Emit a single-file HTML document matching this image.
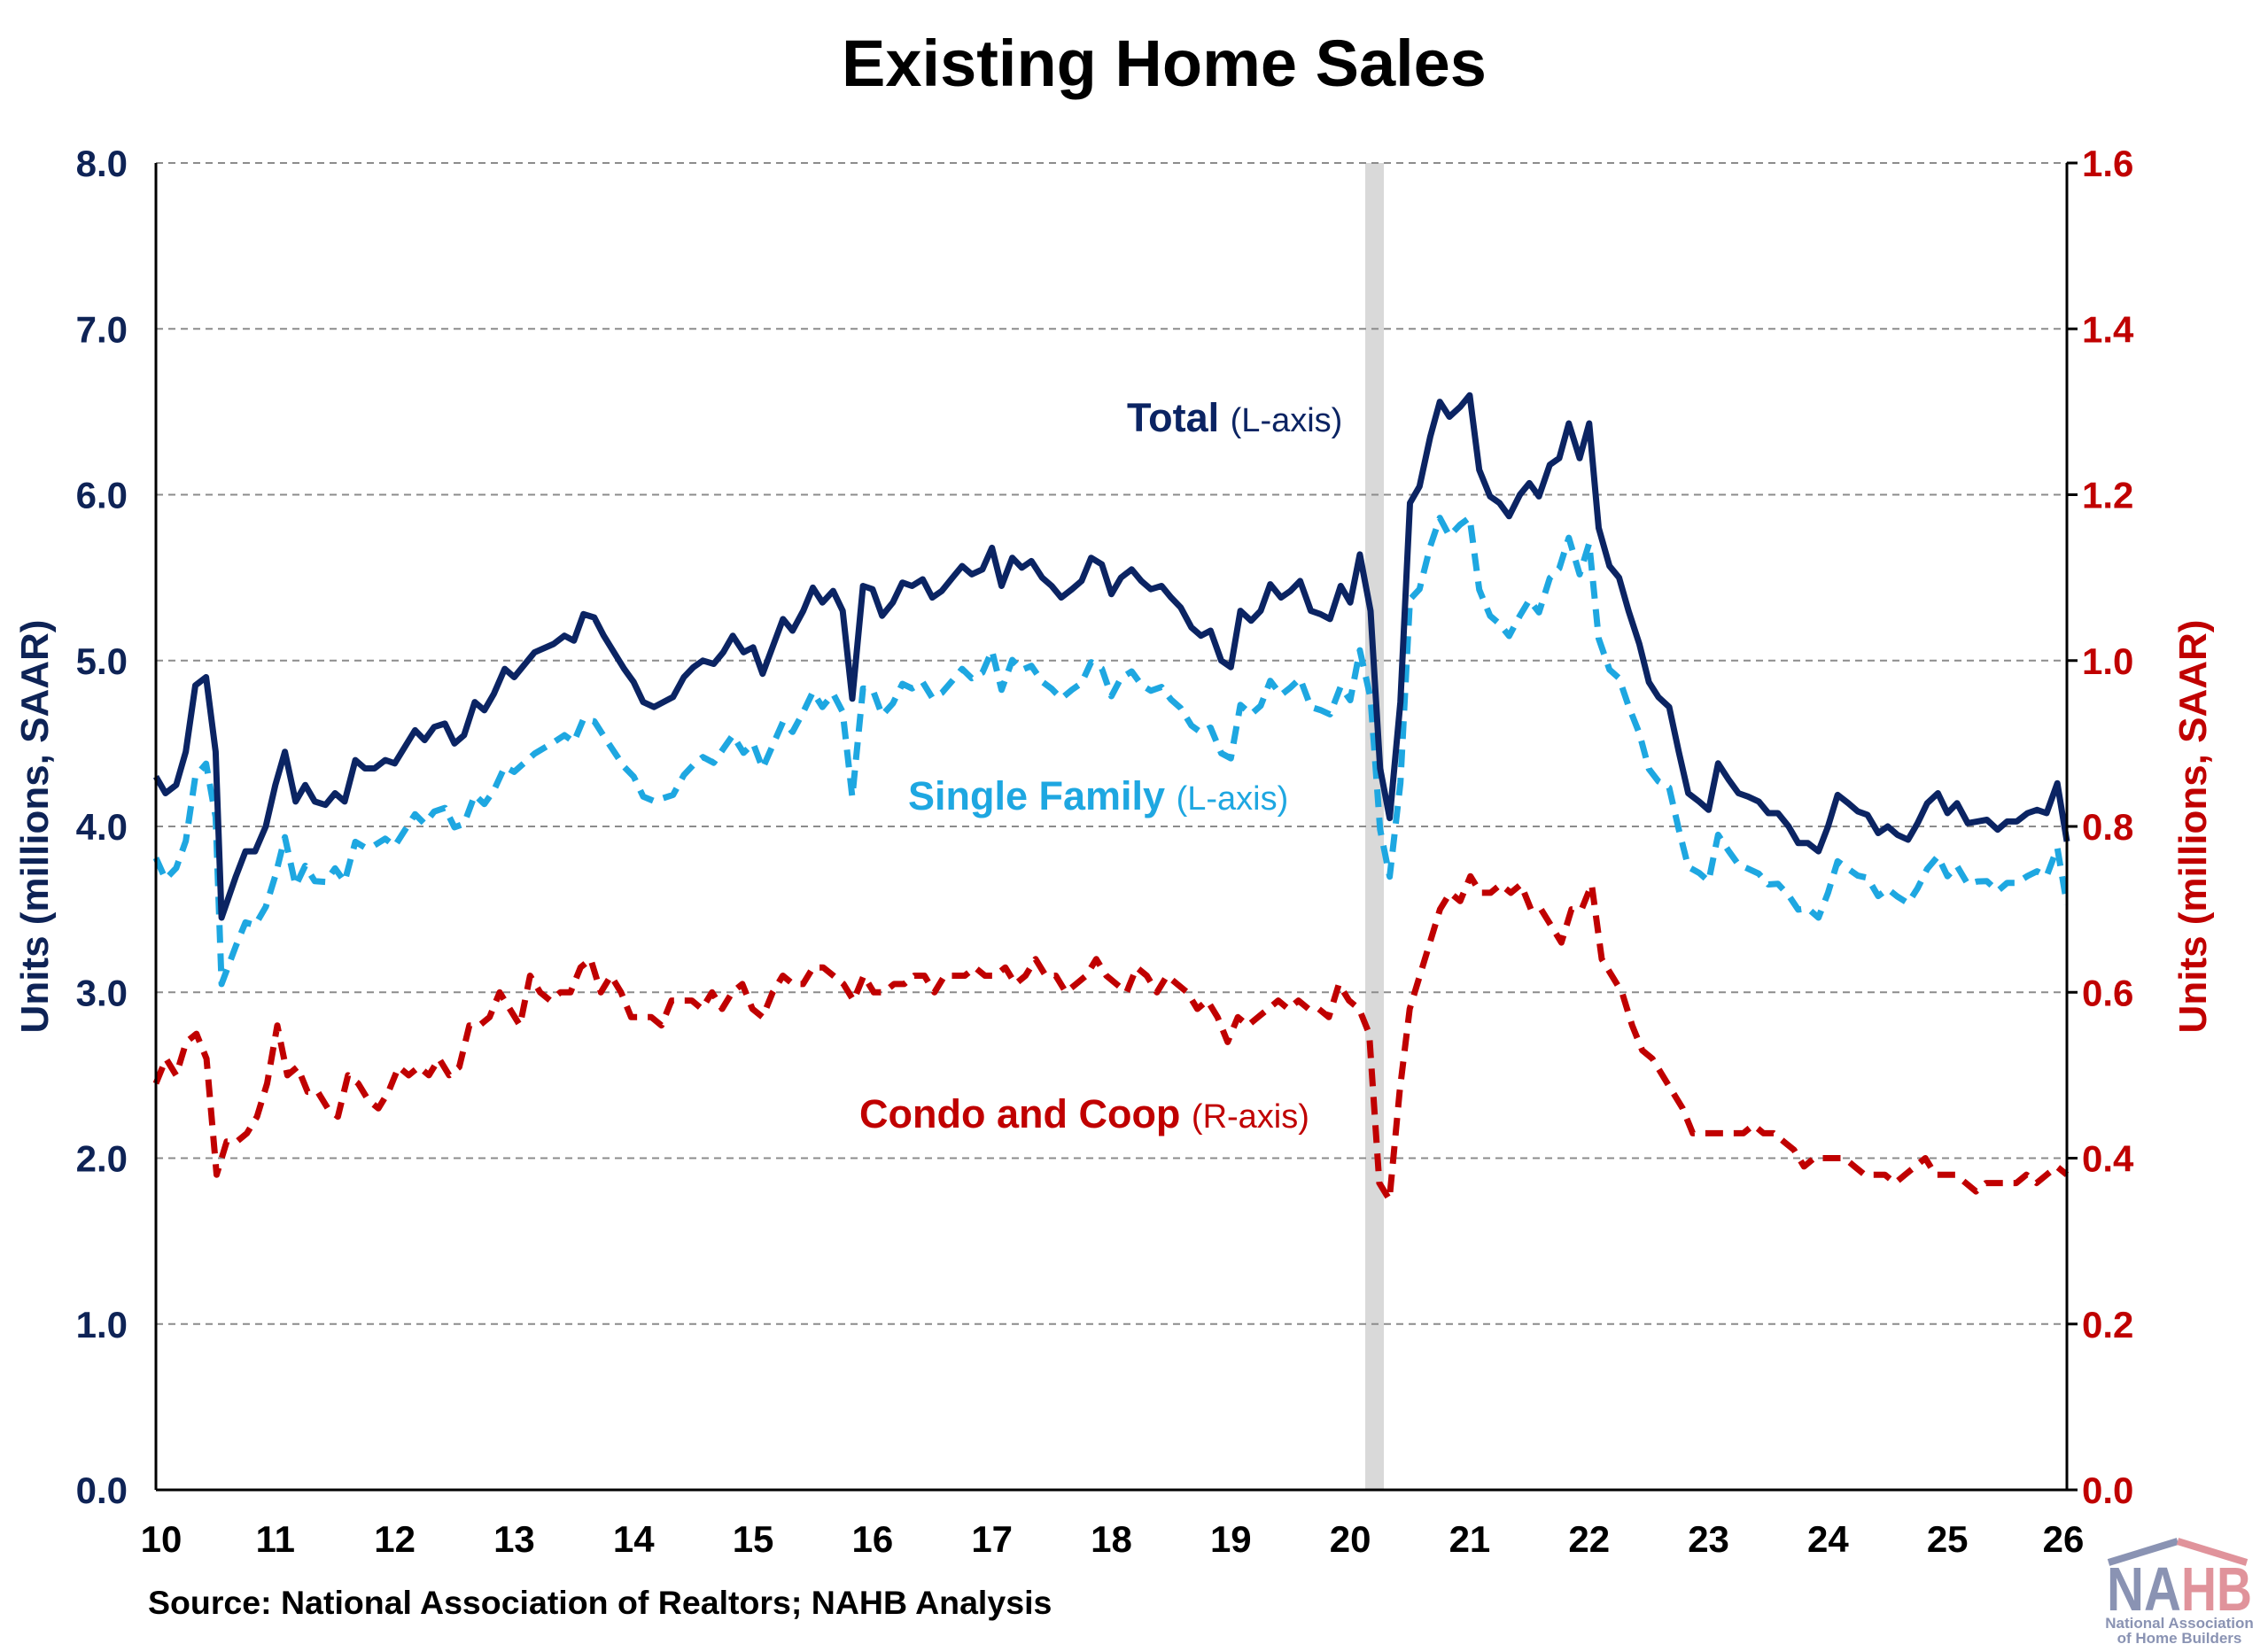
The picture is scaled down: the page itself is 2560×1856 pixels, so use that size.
<!DOCTYPE html>
<html><head><meta charset="utf-8"><style>
html,body{margin:0;padding:0;background:#fff;}
svg{display:block;font-family:"Liberation Sans",Arial,sans-serif;}
</style></head><body>
<svg id="s" width="2560" height="1856" viewBox="0 0 2560 1856" xmlns="http://www.w3.org/2000/svg">
<rect width="2560" height="1856" fill="#fff"/>
<text x="1314" y="97" font-size="74" font-weight="bold" text-anchor="middle" fill="#000">Existing Home Sales</text>
<rect x="1541" y="184" width="21" height="1498" fill="#d9d9d9"/>
<g id="grid" stroke="#8c8c8c" stroke-width="2" stroke-dasharray="8 6"></g>
<g id="labs"></g>
<path id="condo" fill="none" stroke="#C00000" stroke-width="7" stroke-dasharray="20 12" stroke-linejoin="round"/>
<path id="sf" fill="none" stroke="#1EA7E1" stroke-width="7" stroke-dasharray="20 12" stroke-linejoin="round"/>
<path id="tot" fill="none" stroke="#0B2463" stroke-width="7" stroke-linejoin="round"/>
<line x1="176" y1="184" x2="176" y2="1682" stroke="#000" stroke-width="3"/>
<line x1="2333" y1="184" x2="2333" y2="1682" stroke="#000" stroke-width="3"/>
<line x1="176" y1="1682" x2="2345" y2="1682" stroke="#000" stroke-width="3"/>
<text transform="translate(54,933) rotate(-90)" font-size="44" font-weight="bold" fill="#0E2356" text-anchor="middle">Units (millions, SAAR)</text>
<text transform="translate(2490,933) rotate(-90)" font-size="44" font-weight="bold" fill="#C00000" text-anchor="middle">Units (millions, SAAR)</text>
<text x="1272" y="487" font-size="45" font-weight="bold" fill="#0B2463">Total <tspan font-size="38" font-weight="normal">(L-axis)</tspan></text>
<text x="1025" y="914" font-size="45" font-weight="bold" fill="#1EA7E1">Single Family <tspan font-size="38" font-weight="normal">(L-axis)</tspan></text>
<text x="970" y="1273" font-size="45" font-weight="bold" fill="#C00000">Condo and Coop <tspan font-size="38" font-weight="normal">(R-axis)</tspan></text>
<text x="167" y="1822" font-size="37.5" font-weight="bold" fill="#000">Source: National Association of Realtors; NAHB Analysis</text>
<g>
<polyline points="2380,1764 2458,1740" fill="none" stroke="#8a93b3" stroke-width="8"/>
<polyline points="2458,1740 2536,1764" fill="none" stroke="#e0939b" stroke-width="8"/>
<text x="2378" y="1818" font-size="70" font-weight="bold" fill="#8a93b3" textLength="84" lengthAdjust="spacingAndGlyphs">NA</text>
<text x="2462" y="1818" font-size="70" font-weight="bold" fill="#e0939b" textLength="80" lengthAdjust="spacingAndGlyphs">HB</text>
<text x="2460" y="1838" font-size="17" font-weight="bold" fill="#8a93b3" text-anchor="middle">National Association</text>
<text x="2460" y="1855" font-size="17" font-weight="bold" fill="#8a93b3" text-anchor="middle">of Home Builders</text>
</g>
</svg>
<script>
var X0=176,X1=2333,Y0=1682,U=187.25;
function X(t){return X0+(t-2010)/16*(X1-X0);}
function Y(v){return Y0-v*U;}
var ns="http://www.w3.org/2000/svg";
var g=document.getElementById('grid'),L=document.getElementById('labs');
function el(p,tag,a,txt){var e=document.createElementNS(ns,tag);for(var k in a)e.setAttribute(k,a[k]);if(txt!=null)e.textContent=txt;p.appendChild(e);return e;}
for(var i=0;i<=8;i++){var y=Y(i);
 if(i>0)el(g,'line',{x1:176,x2:2333,y1:y,y2:y});
 el(L,'line',{x1:2333,x2:2345,y1:y,y2:y,stroke:'#000','stroke-width':3});
 el(L,'text',{x:144,y:y+15,'font-size':42,'font-weight':'bold',fill:'#0E2356','text-anchor':'end'},i.toFixed(1));
 el(L,'text',{x:2350,y:y+15,'font-size':42,'font-weight':'bold',fill:'#C00000'},(i*0.2).toFixed(1));
}
for(var yr=10;yr<=26;yr++){el(L,'text',{x:X(2000+yr)+(yr==10?6:(yr==26?-4:0)),y:1752,'font-size':42,'font-weight':'bold',fill:'#000','text-anchor':'middle'},''+yr);}
var T=[2010.0,4.3,2010.08,4.2,2010.17,4.25,2010.25,4.45,2010.33,4.85,2010.42,4.9,2010.5,4.45,2010.55,3.45,2010.67,3.7,2010.75,3.85,2010.83,3.85,2010.92,4.0,2011.0,4.25,2011.08,4.45,2011.17,4.15,2011.25,4.25,2011.33,4.15,2011.42,4.13,2011.5,4.2,2011.58,4.15,2011.67,4.4,2011.75,4.35,2011.83,4.35,2011.92,4.4,2012.0,4.38,2012.17,4.58,2012.25,4.52,2012.33,4.6,2012.42,4.62,2012.5,4.5,2012.58,4.55,2012.67,4.75,2012.75,4.7,2012.83,4.8,2012.92,4.95,2013.0,4.9,2013.17,5.05,2013.33,5.1,2013.42,5.15,2013.5,5.12,2013.58,5.28,2013.67,5.26,2013.75,5.15,2013.92,4.95,2014.0,4.87,2014.08,4.75,2014.17,4.72,2014.33,4.78,2014.42,4.9,2014.5,4.96,2014.58,5.0,2014.67,4.98,2014.75,5.05,2014.83,5.15,2014.92,5.05,2015.0,5.08,2015.08,4.92,2015.25,5.25,2015.33,5.18,2015.42,5.3,2015.5,5.44,2015.58,5.35,2015.67,5.42,2015.75,5.3,2015.83,4.77,2015.92,5.45,2016.0,5.43,2016.08,5.27,2016.17,5.35,2016.25,5.47,2016.33,5.45,2016.42,5.49,2016.5,5.38,2016.58,5.42,2016.67,5.5,2016.75,5.57,2016.83,5.52,2016.92,5.55,2017.0,5.68,2017.08,5.45,2017.17,5.62,2017.25,5.56,2017.33,5.6,2017.42,5.5,2017.5,5.45,2017.58,5.38,2017.67,5.43,2017.75,5.48,2017.83,5.62,2017.92,5.58,2018.0,5.4,2018.08,5.5,2018.17,5.55,2018.25,5.48,2018.33,5.43,2018.42,5.45,2018.5,5.38,2018.58,5.32,2018.67,5.2,2018.75,5.15,2018.83,5.18,2018.92,5.0,2019.0,4.96,2019.08,5.3,2019.17,5.24,2019.25,5.3,2019.33,5.46,2019.42,5.38,2019.5,5.42,2019.58,5.48,2019.67,5.3,2019.75,5.28,2019.83,5.25,2019.92,5.45,2020.0,5.35,2020.08,5.64,2020.17,5.3,2020.25,4.35,2020.33,4.05,2020.42,4.75,2020.5,5.95,2020.58,6.05,2020.67,6.35,2020.75,6.56,2020.83,6.47,2020.92,6.53,2021.0,6.6,2021.08,6.15,2021.17,5.99,2021.25,5.95,2021.33,5.87,2021.42,6.0,2021.5,6.07,2021.58,5.99,2021.67,6.18,2021.75,6.22,2021.83,6.43,2021.92,6.22,2022.0,6.43,2022.08,5.8,2022.17,5.57,2022.25,5.5,2022.33,5.3,2022.42,5.1,2022.5,4.87,2022.58,4.78,2022.67,4.72,2022.75,4.45,2022.83,4.2,2022.92,4.15,2023.0,4.1,2023.08,4.38,2023.17,4.28,2023.25,4.2,2023.33,4.18,2023.42,4.15,2023.5,4.08,2023.58,4.08,2023.67,4.0,2023.75,3.9,2023.83,3.9,2023.92,3.85,2024.0,4.0,2024.08,4.19,2024.17,4.14,2024.25,4.09,2024.33,4.07,2024.42,3.96,2024.5,4.0,2024.58,3.95,2024.67,3.92,2024.75,4.02,2024.83,4.14,2024.92,4.2,2025.0,4.08,2025.08,4.14,2025.17,4.02,2025.25,4.03,2025.33,4.04,2025.42,3.98,2025.5,4.03,2025.58,4.03,2025.67,4.08,2025.75,4.1,2025.83,4.08,2025.92,4.26,2026.0,3.91];
var C=[0.49,0.52,0.5,0.54,0.55,0.52,0.38,0.42,0.42,0.43,0.45,0.49,0.56,0.5,0.51,0.48,0.48,0.46,0.45,0.5,0.49,0.47,0.46,0.48,0.51,0.5,0.51,0.5,0.52,0.5,0.51,0.56,0.56,0.57,0.6,0.58,0.56,0.62,0.6,0.59,0.6,0.6,0.63,0.64,0.6,0.62,0.6,0.57,0.57,0.57,0.56,0.59,0.59,0.59,0.58,0.6,0.58,0.6,0.61,0.58,0.57,0.6,0.62,0.61,0.61,0.63,0.63,0.62,0.61,0.59,0.62,0.6,0.6,0.61,0.61,0.62,0.62,0.6,0.62,0.62,0.62,0.63,0.62,0.62,0.63,0.61,0.62,0.64,0.62,0.62,0.6,0.61,0.62,0.64,0.62,0.61,0.6,0.63,0.62,0.6,0.62,0.61,0.6,0.58,0.59,0.57,0.54,0.57,0.56,0.57,0.58,0.59,0.58,0.59,0.58,0.58,0.57,0.61,0.59,0.58,0.55,0.37,0.35,0.48,0.58,0.62,0.66,0.7,0.72,0.71,0.74,0.72,0.72,0.73,0.72,0.73,0.7,0.7,0.68,0.66,0.7,0.7,0.73,0.64,0.62,0.6,0.56,0.53,0.52,0.5,0.48,0.46,0.43,0.43,0.43,0.43,0.43,0.43,0.44,0.43,0.43,0.42,0.41,0.39,0.4,0.4,0.4,0.4,0.39,0.38,0.38,0.38,0.37,0.38,0.39,0.4,0.38,0.38,0.38,0.37,0.36,0.37,0.37,0.37,0.37,0.38,0.37,0.38,0.39,0.38];
function cAt(t){var p=(t-2010)/16*(C.length-1);var i=Math.floor(p);if(i>=C.length-1)return C[C.length-1];var f=p-i;return C[i]*(1-f)+C[i+1]*f;}
var dt='',ds='',dc='';
for(var k=0;k<T.length;k+=2){var t=T[k],v=T[k+1];
 dt+=(k?'L':'M')+X(t).toFixed(1)+' '+Y(v).toFixed(1);
 ds+=(k?'L':'M')+X(t).toFixed(1)+' '+Y(v-cAt(t)).toFixed(1);}
for(var i=0;i<C.length;i++){var t=2010+16*i/(C.length-1);dc+=(i?'L':'M')+X(t).toFixed(1)+' '+Y(C[i]*5).toFixed(1);}
document.getElementById('tot').setAttribute('d',dt);
document.getElementById('sf').setAttribute('d',ds);
document.getElementById('condo').setAttribute('d',dc);
</script>
</body></html>
